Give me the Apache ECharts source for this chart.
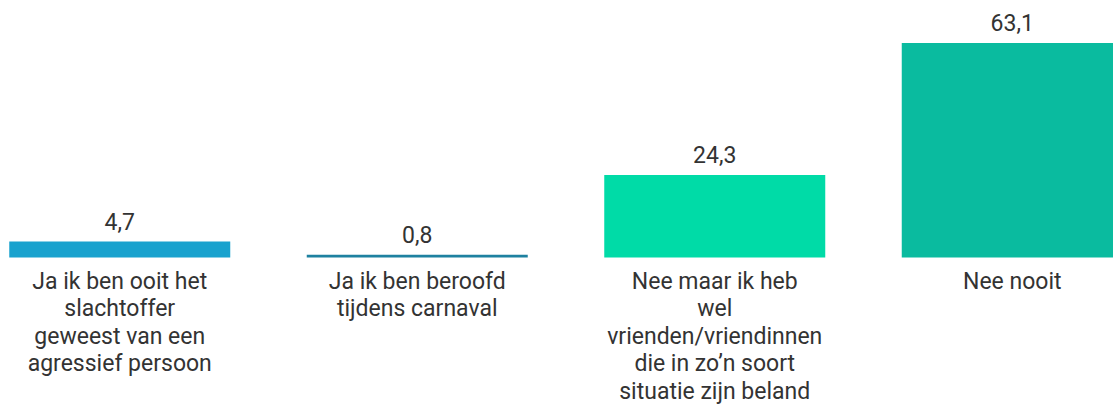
<!DOCTYPE html>
<html>
<head>
<meta charset="utf-8">
<script src="https://cdn.jsdelivr.net/npm/echarts@6/dist/echarts.min.js"></script>
<style>
  html, body { margin: 0; padding: 0; background: #fff; overflow: hidden; width: 1113px; height: 405px; }
  #chart { width: 1190px; height: 405px; margin-left: -29px; }
</style>
</head>
<body>
<div id="chart"></div>
<script>
var categories = [
  'Ja ik ben ooit het\nslachtoffer\ngeweest van een\nagressief persoon',
  'Ja ik ben beroofd\ntijdens carnaval',
  'Nee maar ik heb\nwel\nvrienden/vriendinnen\ndie in zo\u2019n soort\nsituatie zijn beland',
  'Nee nooit'
];
var values = [4.7, 0.8, 24.3, 63.1];
var barColors = ['#19a2ce', '#1e81a0', '#00dba7', '#0abb9f'];

var chart = echarts.init(document.getElementById('chart'), null, { renderer: 'svg' });

chart.setOption({
  animation: false,
  grid: { left: 0, right: 0, top: 43, bottom: 147 },
  xAxis: {
    type: 'category',
    data: categories,
    axisLine: { show: false },
    axisTick: { show: false },
    axisLabel: {
      interval: 0,
      margin: 10,
      color: '#333',
      fontFamily: 'Roboto',
      fontSize: 23,
      lineHeight: 27.5
    }
  },
  yAxis: {
    type: 'value',
    min: 0,
    max: 63.1,
    show: false
  },
  series: [{
    type: 'bar',
    barWidth: 221,
    data: values.map(function(v, i) {
      return { value: v, itemStyle: { color: barColors[i] } };
    }),
    label: {
      show: true,
      position: 'top',
      distance: 8,
      color: '#333',
      fontFamily: 'Roboto',
      fontSize: 23,
      formatter: function(p) { return String(p.value).replace('.', ','); }
    }
  }]
});
</script>
</body>
</html>
